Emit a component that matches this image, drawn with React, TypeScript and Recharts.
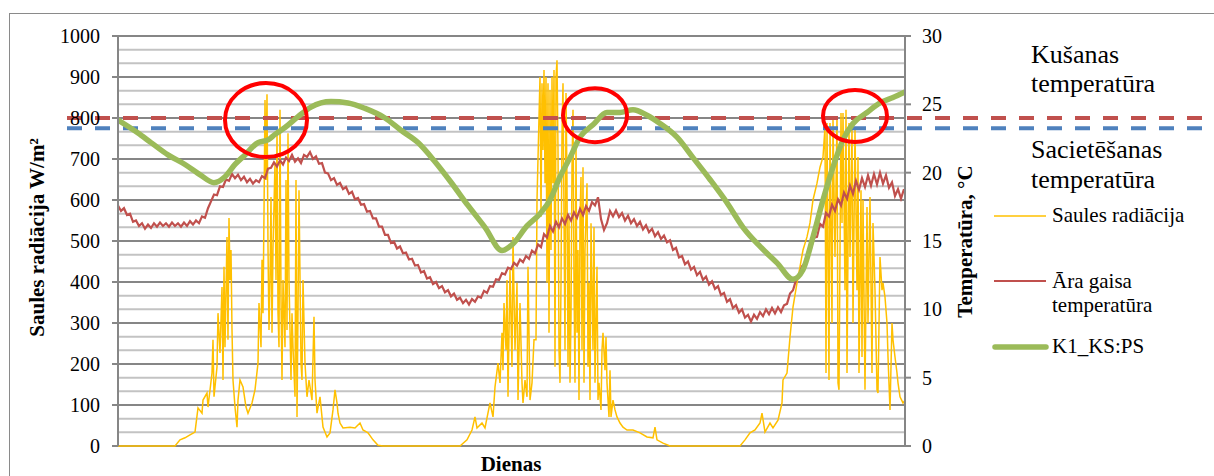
import React from 'react';
import { LineChart, Line, XAxis, YAxis, CartesianGrid, ReferenceLine, ReferenceDot } from 'recharts';

// x = measurement step index (5-minute steps), left axis W/m², right axis °C
const leftTicks = [0, 100, 200, 300, 400, 500, 600, 700, 800, 900, 1000];
const rightLabelStep = 5;
const rightGridTicks = Array.from({ length: 31 }, (_, i) => i);

const meltingTemp = 24;
const solidifyTemp = 23.25;

const solarPts: [number, number][] = [
  [0, 0], [57, 0], [62, 15], [67, 20], [72, 27], [77, 34], [80, 93], [84, 80], [85, 112], [89, 129], [90, 95], [94, 178], [95, 259], [96, 120], [99, 193], [100, 324], [102, 227], [104, 388], [105, 161], [106, 437], [107, 241], [109, 510], [110, 259], [111, 556], [112, 405], [113, 478], [114, 283], [115, 161], [117, 95], [119, 46], [120, 112], [122, 161], [125, 144], [128, 95], [130, 80], [134, 105], [137, 137], [140, 202], [141, 349], [143, 241], [144, 454], [145, 324], [146, 568], [147, 844], [148, 649], [149, 858], [150, 485], [151, 283], [152, 405], [153, 607], [154, 276], [155, 485], [157, 690], [158, 405], [159, 771], [160, 324], [161, 241], [162, 820], [163, 363], [164, 161], [165, 405], [167, 241], [168, 649], [169, 283], [170, 763], [171, 405], [173, 161], [174, 324], [175, 241], [177, 120], [178, 649], [179, 71], [180, 324], [181, 624], [183, 202], [184, 161], [185, 405], [187, 202], [189, 120], [191, 161], [194, 112], [196, 315], [197, 161], [199, 80], [202, 120], [205, 46], [209, 22], [212, 32], [215, 88], [217, 137], [219, 105], [220, 80], [222, 56], [225, 44], [232, 46], [237, 44], [242, 56], [245, 39], [250, 32], [255, 15], [260, 2], [265, 0],
  [342, 0], [349, 15], [354, 39], [357, 71], [359, 44], [364, 56], [367, 44], [372, 105], [375, 71], [377, 144], [380, 202], [382, 154], [384, 276], [385, 185], [386, 349], [388, 234], [389, 405], [390, 120], [392, 429], [394, 193], [395, 510], [397, 234], [399, 398], [400, 112], [402, 349], [404, 154], [405, 105], [407, 161], [409, 120], [410, 437], [412, 112], [414, 154], [416, 259], [418, 259], [419, 600], [421, 802], [422, 900], [423, 559], [424, 885], [425, 722], [426, 917], [427, 641], [428, 900], [429, 398], [430, 885], [431, 276], [432, 868], [433, 478], [434, 900], [435, 641], [436, 917], [437, 193], [438, 900], [439, 941], [440, 722], [441, 234], [442, 154], [443, 398], [444, 763], [445, 885], [446, 559], [447, 234], [448, 861], [449, 641], [450, 193], [451, 559], [452, 154], [453, 315], [454, 680], [455, 820], [456, 398], [457, 154], [458, 739], [459, 276], [460, 478], [461, 112], [462, 559], [463, 656], [464, 234], [465, 680], [466, 154], [467, 478], [469, 641], [470, 193], [471, 398], [472, 112], [473, 543], [475, 234], [476, 534], [477, 154], [479, 437], [480, 112], [481, 154], [483, 88], [484, 234], [485, 276], [487, 185], [488, 266], [489, 154], [491, 71], [492, 185], [493, 71], [495, 112], [497, 88], [499, 71], [502, 56], [505, 46], [509, 39], [515, 39], [522, 32], [529, 22], [535, 20], [537, 46], [539, 15], [545, 7], [552, 0],
  [622, 0], [627, 15], [632, 32], [637, 39], [642, 56], [644, 80], [647, 34], [652, 56], [655, 44], [660, 63], [664, 105], [665, 161], [669, 178], [672, 266], [675, 339], [679, 398], [682, 437], [685, 478], [689, 510], [692, 544], [695, 600], [699, 641], [702, 680], [705, 705], [707, 778], [708, 178], [709, 788], [711, 161], [712, 788], [714, 300], [715, 795], [717, 461], [719, 802], [720, 154], [721, 137], [723, 812], [724, 544], [725, 812], [727, 380], [728, 820], [729, 178], [731, 788], [732, 461], [734, 778], [735, 300], [737, 771], [739, 380], [740, 705], [741, 178], [743, 624], [744, 217], [745, 600], [747, 137], [749, 583], [750, 300], [752, 607], [754, 178], [755, 544], [757, 380], [759, 137], [760, 129], [762, 461], [764, 380], [765, 398], [767, 363], [769, 300], [770, 217], [772, 88], [774, 300], [775, 259], [777, 217], [779, 178], [780, 154], [782, 120], [785, 105], [787, 112],
];

const airTemps: number[] = [
  17.6, 17.2, 17.4, 16.9, 17.0, 16.4, 16.5, 16.1, 16.3, 15.9, 16.2, 15.95, 16.3, 16.05, 16.35, 16.1, 16.3, 16.05, 16.35, 16.1, 16.3, 16.05, 16.35, 16.1, 16.45, 16.2, 16.5, 16.3, 16.8, 16.7, 17.4, 17.9, 18.4, 18.35, 19.0, 18.95, 19.5, 19.4, 19.9, 19.6, 19.85, 19.45, 19.7, 19.3, 19.55, 19.2, 19.45, 19.3, 19.75, 19.6,
  20.3, 20.35, 20.75, 20.45, 20.9, 20.6, 21.1, 20.85, 21.3, 20.8, 21.05, 20.7, 21.3, 21.15, 21.5, 21.0, 21.2, 20.65, 20.7, 20.0, 19.95, 19.45, 19.6, 19.1, 19.25, 18.8, 18.95, 18.45, 18.6, 18.05, 18.15, 17.65, 17.7, 17.15, 17.2, 16.65, 16.65, 16.05, 16.05, 15.45, 15.45, 14.85, 14.95, 14.45, 14.6, 14.1, 14.15, 13.65, 13.7, 13.2,
  13.25, 12.7, 12.8, 12.25, 12.35, 11.85, 12.0, 11.55, 11.7, 11.25, 11.4, 10.95, 11.15, 10.7, 10.85, 10.45, 10.7, 10.35, 10.75, 10.55, 10.95, 10.85, 11.35, 11.2, 11.7, 11.65, 12.2, 12.15, 12.65, 12.55, 13.05, 12.95, 13.4, 13.2, 13.65, 13.45, 13.9, 13.7, 14.3, 14.1, 14.75, 14.55, 15.5, 15.25, 16.1, 15.7, 16.4, 16.0, 16.65, 16.25,
  16.9, 16.5, 17.1, 16.7, 17.35, 16.9, 17.55, 17.2, 17.85, 17.6, 18.2, 16.6, 15.8, 16.3, 17.2, 16.8, 17.25, 16.75, 17.05, 16.5, 16.85, 16.3, 16.6, 16.1, 16.4, 15.85, 16.15, 15.65, 15.9, 15.35, 15.65, 15.15, 15.4, 14.9, 15.05, 14.35, 14.5, 13.8, 13.9, 13.3, 13.5, 12.9, 13.1, 12.5, 12.75, 12.15, 12.4, 11.8, 12.05, 11.5,
  11.7, 11.05, 11.2, 10.55, 10.75, 10.1, 10.3, 9.75, 10.0, 9.4, 9.6, 9.1, 9.6, 9.3, 9.8, 9.5, 10.0, 9.65, 10.1, 9.7, 10.15, 9.8, 10.3, 10.4, 11.15, 11.4, 12.15, 12.4, 13.15, 13.4, 14.25, 14.45, 15.25, 15.3, 16.25, 16.05, 17.05, 16.8, 17.65, 17.2, 18.05, 17.6, 18.55, 18.1, 19.05, 18.45, 19.4, 18.75, 19.6, 18.95,
  19.8, 19.05, 19.9, 19.15, 20.0, 19.2, 19.8, 18.9, 19.3, 18.3, 18.8, 18.1, 18.8,
];

const pcmPts: [number, number][] = [
  [0, 23.85], [20, 22.9], [33, 22.2], [50, 21.3], [67, 20.6], [83, 19.8], [96, 19.27], [107, 19.7], [117, 20.6], [127, 21.3], [140, 22.2], [150, 22.4], [157, 22.8], [167, 23.3], [180, 24.1], [193, 24.8], [213, 25.2], [230, 25.1], [247, 24.7], [267, 24.0], [283, 23.1], [300, 22.2], [317, 20.8], [333, 19.3], [350, 17.6], [367, 16.0], [384, 14.3], [395, 14.8], [409, 16.1], [422, 17.0], [432, 18.0], [442, 19.7], [452, 21.1], [462, 22.6], [475, 23.5], [489, 24.4], [502, 24.4], [515, 24.6], [529, 24.2], [542, 23.6], [559, 22.6], [575, 21.1], [592, 19.5], [609, 17.8], [625, 16.0], [642, 14.6], [659, 13.4], [675, 12.2], [685, 12.9], [695, 15.3], [705, 18.0], [715, 20.4], [725, 22.4], [735, 23.6], [749, 24.4], [762, 25.1], [775, 25.5], [787, 25.9],
];

const highlights = [
  { t: 148, v: 795 },
  { t: 477, v: 807 },
  { t: 737, v: 805 },
];
const highlightSizes = [
  { rx: 41, ry: 37 },
  { rx: 32, ry: 27 },
  { rx: 32, ry: 26 },
];

const solarData = solarPts.map(([t, v]) => ({ t, v }));
const airData = airTemps.map((v, i) => ({ t: Math.min(i * 3, 787), v }));
const pcmData = pcmPts.map(([t, v]) => ({ t, v }));

const FONT = '"Liberation Serif", "Times New Roman", serif';
const AXIS = '#868686';
const GRID_MAJOR = '#868686';
const GRID_MINOR = '#c3c3c3';

const RightTick = (props: any) => {
  const { x, y, payload } = props;
  if (payload.value % rightLabelStep !== 0) return <g />;
  return (
    <g>
      <line x1={x - 17} y1={y} x2={x - 11} y2={y} stroke={AXIS} strokeWidth={2} />
      <text x={x} y={y} dy="0.355em" fontSize={20} fill="#000" fontFamily={FONT} textAnchor="start">{payload.value}</text>
    </g>
  );
};

export default function App() {
  return (
    <div style={{ position: 'absolute', left: 0, top: 0, width: 1214, height: 476, background: '#fff', fontFamily: FONT, overflow: 'hidden' }}>
      <div style={{ position: 'absolute', left: 9, top: 13, width: 1205, height: 463, borderTop: '1px solid #8a8a8a', borderLeft: '1px solid #8a8a8a', boxSizing: 'border-box' }} />
      <div style={{ position: 'absolute', left: 0, top: 0 }}>
        <LineChart width={1214} height={476} margin={{ top: 36, right: 249, bottom: 0, left: 58 }}>
          <CartesianGrid yAxisId="right" vertical={false} stroke={GRID_MINOR} strokeWidth={2} />
          <CartesianGrid yAxisId="left" vertical={false} stroke={GRID_MAJOR} strokeWidth={2} />
          <XAxis
            dataKey="t"
            type="number"
            domain={[0, 787]}
            allowDataOverflow
            tick={false}
            tickLine={false}
            axisLine={false}
            height={30}
          />
          <YAxis
            yAxisId="left"
            domain={[0, 1000]}
            ticks={leftTicks}
            type="number"
            width={60}
            tickSize={6}
            tickMargin={12}
            axisLine={{ stroke: AXIS, strokeWidth: 2 }}
            tickLine={{ stroke: AXIS, strokeWidth: 2 }}
            tick={{ fill: '#000', fontSize: 20, fontFamily: FONT }}
            interval={0}
          />
          <YAxis
            yAxisId="right"
            orientation="right"
            domain={[0, 30]}
            ticks={rightGridTicks}
            type="number"
            width={60}
            tickSize={6}
            tickMargin={11}
            axisLine={{ stroke: AXIS, strokeWidth: 2 }}
            tickLine={false}
            tick={<RightTick />}
            interval={0}
          />
          <Line yAxisId="left" data={solarData} dataKey="v" stroke="#FFC000" strokeWidth={1.5} dot={false} isAnimationActive={false} />
          <Line yAxisId="right" data={airData} dataKey="v" stroke="#C0504D" strokeWidth={2.2} dot={false} isAnimationActive={false} />
          <ReferenceLine yAxisId="right" segment={[{ x: -51, y: meltingTemp }, { x: 1085, y: meltingTemp }]} stroke="#C0504D" strokeWidth={4} strokeDasharray="15 13" ifOverflow="visible" />
          <ReferenceLine yAxisId="right" segment={[{ x: -51, y: solidifyTemp }, { x: 1085, y: solidifyTemp }]} stroke="#4F81BD" strokeWidth={4} strokeDasharray="15 13" ifOverflow="visible" />
          <Line yAxisId="right" type="monotone" data={pcmData} dataKey="v" stroke="#9BBB59" strokeWidth={5.5} strokeLinecap="round" strokeLinejoin="round" dot={false} isAnimationActive={false} />
          {highlights.map((h, i) => (
            <ReferenceDot
              key={i}
              yAxisId="left"
              x={h.t}
              y={h.v}
              r={highlightSizes[i].rx}
              ifOverflow="visible"
              shape={(p: any) => (
                <ellipse cx={p.cx} cy={p.cy} rx={highlightSizes[i].rx} ry={highlightSizes[i].ry} fill="none" stroke="#FF0000" strokeWidth={4} />
              )}
            />
          ))}
        </LineChart>
      </div>
      <svg width={1214} height={476} style={{ position: 'absolute', left: 0, top: 0, pointerEvents: 'none' }} fontFamily={FONT}>
        <text transform="translate(43.5,237.5) rotate(-90)" textAnchor="middle" fontSize={21} fontWeight="bold" fill="#000">Saules radiācija W/m²</text>
        <text transform="translate(972,241.5) rotate(-90)" textAnchor="middle" fontSize={21} fontWeight="bold" fill="#000">Temperatūra, °C</text>
        <text x={511} y={471} textAnchor="middle" fontSize={21} fontWeight="bold" fill="#000">Dienas</text>
        <text x={1031} y={62.5} fontSize={26} fill="#000">Kušanas</text>
        <text x={1031} y={92} fontSize={26} fill="#000">temperatūra</text>
        <text x={1031} y={158.3} fontSize={26} fill="#000">Sacietēšanas</text>
        <text x={1031} y={188.3} fontSize={26} fill="#000">temperatūra</text>
        <line x1={994} y1={216} x2={1046} y2={216} stroke="#FFC000" strokeWidth={1.5} />
        <text x={1052} y={221.7} fontSize={21} fill="#000">Saules radiācija</text>
        <line x1={994} y1={281} x2={1046} y2={281} stroke="#C0504D" strokeWidth={2} />
        <text x={1052} y={288.3} fontSize={21} fill="#000">Āra gaisa</text>
        <text x={1052} y={311.7} fontSize={21} fill="#000">temperatūra</text>
        <line x1={995} y1={347} x2={1046} y2={347} stroke="#9BBB59" strokeWidth={5.5} strokeLinecap="round" />
        <text x={1052} y={353.3} fontSize={21} fill="#000">K1_KS:PS</text>
      </svg>
    </div>
  );
}
